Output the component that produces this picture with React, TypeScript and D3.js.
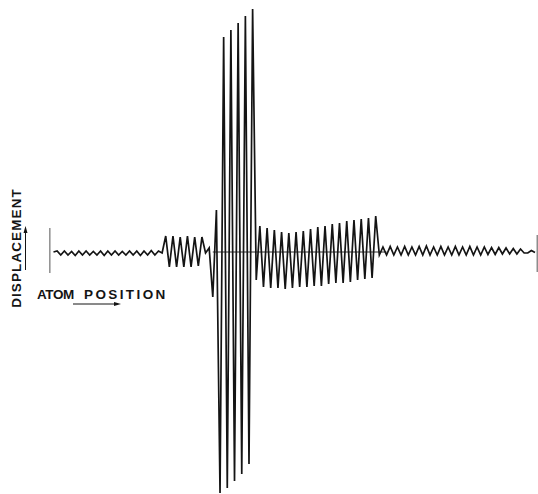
import { useEffect, useRef } from "react";
import * as d3 from "d3";

// displacement of each atom (arbitrary units, + is up)
const smallLeft = [
  0, 0.1, -0.3, 0.1, -0.3, 0.05, -0.35, 0.1, -0.3, 0.1, -0.3, 0.05, -0.3, 0.1,
  -0.35, 0.1, -0.3, 0.1, -0.3, 0.05, -0.3, 0.1, -0.3, 0.1, -0.35, 0.1, -0.3,
  0.15, -0.3, 0.1, -0.1,
];
const incoming = [1.6, -1.5, 1.6, -1.5, 1.5, -1.5, 1.6, -1.5, 1.5, -1.4, 1.5];
const lead = [-0.1, 0.4, -4.5, 4.2];
const burst = [-24.1, 21.5, -23.6, 22.2, -22.9, 22.9, -22.2, 23.6, -21.2, 24.3];
const packet = [
  -2.8, 2.6, -3.5, 2.4, -3.6, 2.2, -3.6, 2.0, -3.7, 1.9, -3.6, 2.0, -3.5, 2.1,
  -3.5, 2.3, -3.4, 2.5, -3.4, 2.6, -3.2, 2.8, -3.1, 2.9, -3.1, 3.1, -3.0, 3.2,
  -2.8, 3.3, -2.7, 3.4, -2.6, 3.6, -0.3,
];
const smallRight = [
  0.5, -0.3, 0.55, -0.3, 0.5, -0.3, 0.55, -0.3, 0.5, -0.3, 0.55, -0.3, 0.6,
  -0.3, 0.5, -0.3, 0.55, -0.3, 0.5, -0.3, 0.55, -0.3, 0.5, -0.3, 0.55, -0.3,
  0.5, -0.3, 0.5, -0.25, 0.45, -0.25, 0.45, -0.2, 0.4, -0.2, 0.35, -0.2, 0.3,
];
const tailRight = [-0.1, -0.1, 0.15, -0.05];

const displacement = [
  ...smallLeft,
  ...incoming,
  ...lead,
  ...burst,
  ...packet,
  ...smallRight,
  ...tailRight,
];

// atoms where the thin equilibrium line shows, and the two end markers
const baselineAtoms = [44, 92];
const endMarkers = [
  { atom: -1, top: 2.4, bottom: -2.1 },
  { atom: 133.6, top: 1.7, bottom: -2.0 },
];

const yLabel = "DISPLACEMENT";
const xLabel = ["ATOM", "POSITION"];

export default function App() {
  const svgRef = useRef<SVGSVGElement>(null);

  useEffect(() => {
    const width = 538;
    const height = 494;

    const svg = d3
      .select(svgRef.current)
      .attr("width", width)
      .attr("height", height);
    svg.selectAll("*").remove();

    svg
      .append("rect")
      .attr("width", width)
      .attr("height", height)
      .attr("fill", "#fff");

    const xScale = d3
      .scaleLinear()
      .domain([0, displacement.length - 1])
      .range([53.5, 535]);
    const yScale = d3.scaleLinear().domain([-24.2, 25.2]).range([494, 0]);

    const ink = "#141414";

    // equilibrium line
    svg
      .append("line")
      .attr("x1", xScale(baselineAtoms[0]))
      .attr("x2", xScale(baselineAtoms[1]))
      .attr("y1", yScale(0))
      .attr("y2", yScale(0))
      .attr("stroke", ink)
      .attr("stroke-width", 0.9);

    svg
      .selectAll(".end")
      .data(endMarkers)
      .join("line")
      .attr("class", "end")
      .attr("x1", (d) => xScale(d.atom))
      .attr("x2", (d) => xScale(d.atom))
      .attr("y1", (d) => yScale(d.top))
      .attr("y2", (d) => yScale(d.bottom))
      .attr("stroke", "#555")
      .attr("stroke-width", 1);

    const line = d3
      .line<number>()
      .x((d, i) => xScale(i))
      .y((d) => yScale(d));

    svg
      .append("path")
      .attr("d", line(displacement))
      .attr("fill", "none")
      .attr("stroke", ink)
      .attr("stroke-width", 1.7)
      .attr("stroke-linejoin", "miter");

    // labels
    const font = "'Liberation Sans', Arial, sans-serif";
    svg
      .append("text")
      .attr("transform", "translate(20.5,248) rotate(-90)")
      .attr("text-anchor", "middle")
      .attr("font-family", font)
      .attr("font-size", 13.5)
      .attr("font-weight", "bold")
      .attr("letter-spacing", 1.1)
      .attr("fill", ink)
      .text(yLabel);

    // up arrow next to the vertical label
    svg
      .append("line")
      .attr("x1", 25.5)
      .attr("x2", 25.5)
      .attr("y1", 270)
      .attr("y2", 231)
      .attr("stroke", ink)
      .attr("stroke-width", 1);
    svg
      .append("path")
      .attr("d", "M25.5,226 L23.5,233 L27.5,233 Z")
      .attr("fill", ink);

    const xl = svg
      .append("text")
      .attr("x", 37)
      .attr("y", 298.5)
      .attr("font-family", font)
      .attr("font-size", 13.5)
      .attr("font-weight", "bold")
      .attr("fill", ink);
    xl.append("tspan")
      .attr("letter-spacing", -0.4)
      .text(xLabel[0] + " ");
    xl.append("tspan")
      .attr("x", 84)
      .attr("letter-spacing", 2.4)
      .text(xLabel[1]);

    // right arrow under the horizontal label
    svg
      .append("line")
      .attr("x1", 73)
      .attr("x2", 116)
      .attr("y1", 304)
      .attr("y2", 304)
      .attr("stroke", ink)
      .attr("stroke-width", 1);
    svg
      .append("path")
      .attr("d", "M121,304 L114,302 L114,306 Z")
      .attr("fill", ink);
  }, []);

  return (
    <svg
      ref={svgRef}
      style={{ position: "absolute", left: 0, top: 0, display: "block" }}
    />
  );
}
